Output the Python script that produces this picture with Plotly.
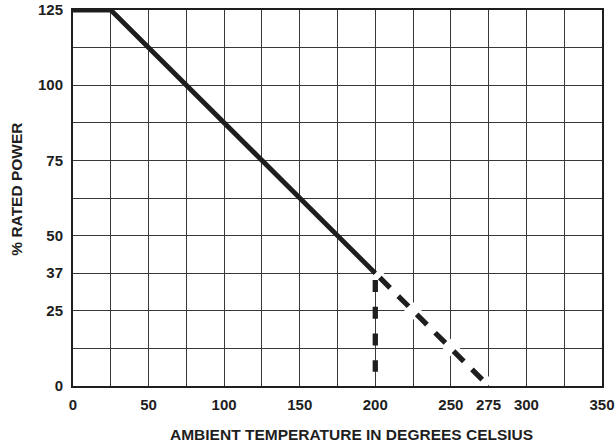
import plotly.graph_objects as go

# ---- data ----
temp_solid = [0, 25, 200]            # °C, rated region
power_solid = [125, 125, 37.5]       # % rated power
temp_extrap = [203, 274]             # dashed derating extension
power_extrap = [36, 0.5]
temp_cutoff = [200, 200]             # dashed vertical cutoff at 200 °C
power_cutoff = [35.2, 4.7]

x_grid = [0, 25, 50, 75, 100, 125, 150, 175, 200, 225, 250, 275, 300, 325, 350]
x_labels = ["0", "", "50", "", "100", "", "150", "", "200", "", "250", "275", "300", "", "350"]
y_grid = [0, 12.5, 25, 37.5, 50, 62.5, 75, 87.5, 100, 112.5, 125]
y_labels = ["0", "", "25", "37", "50", "", "75", "", "100", "", "125"]

FONT = "Liberation Sans, Arial, Helvetica, sans-serif"
INK = "#1e1e1e"

fig = go.Figure()
# white halo under the dashed extension (breaks the grid lines)
fig.add_trace(go.Scatter(x=[200, 275], y=[37.5, 0.3], mode="lines",
                         line=dict(color="white", width=12), hoverinfo="skip"))
fig.add_trace(go.Scatter(x=temp_solid, y=power_solid, mode="lines",
                         line=dict(color=INK, width=4.8)))
fig.add_trace(go.Scatter(x=temp_extrap, y=power_extrap, mode="lines",
                         line=dict(color=INK, width=5.2, dash="14.5px,11.5px")))
fig.add_trace(go.Scatter(x=temp_cutoff, y=power_cutoff, mode="lines",
                         line=dict(color=INK, width=5.3, dash="12px,14.7px")))

axis_common = dict(
    showline=True, linecolor=INK, linewidth=2, mirror=True,
    showgrid=True, gridcolor="#383838", gridwidth=1.1,
    zeroline=False, ticks="", tickmode="array", automargin=False,
    tickfont=dict(family=FONT, size=15, color=INK, weight="bold"),
)

fig.update_layout(
    width=615, height=443,
    margin=dict(l=73, r=13, t=10, b=57),
    paper_bgcolor="white", plot_bgcolor="white",
    showlegend=False,
    xaxis=dict(range=[0, 350], tickvals=x_grid, ticktext=x_labels,
               ticklabelstandoff=4, **axis_common),
    yaxis=dict(range=[0, 125], tickvals=y_grid, ticktext=y_labels,
               ticklabelstandoff=5, **axis_common),
    annotations=[
        dict(text="AMBIENT TEMPERATURE IN DEGREES CELSIUS", xref="paper", yref="paper",
             x=0.527, y=0, yshift=-48.5, xanchor="center", yanchor="middle",
             showarrow=False, font=dict(family=FONT, size=15.5, color=INK, weight="bold")),
        dict(text="% RATED POWER", xref="paper", yref="paper",
             x=0, y=0.524, xshift=-56.3, xanchor="center", yanchor="middle",
             textangle=-90, showarrow=False,
             font=dict(family=FONT, size=15.5, color=INK, weight="bold")),
    ],
)

fig.write_html("out.html", config={"displayModeBar": False},
               post_script="document.body.style.margin='0';document.body.style.overflow='hidden';")
